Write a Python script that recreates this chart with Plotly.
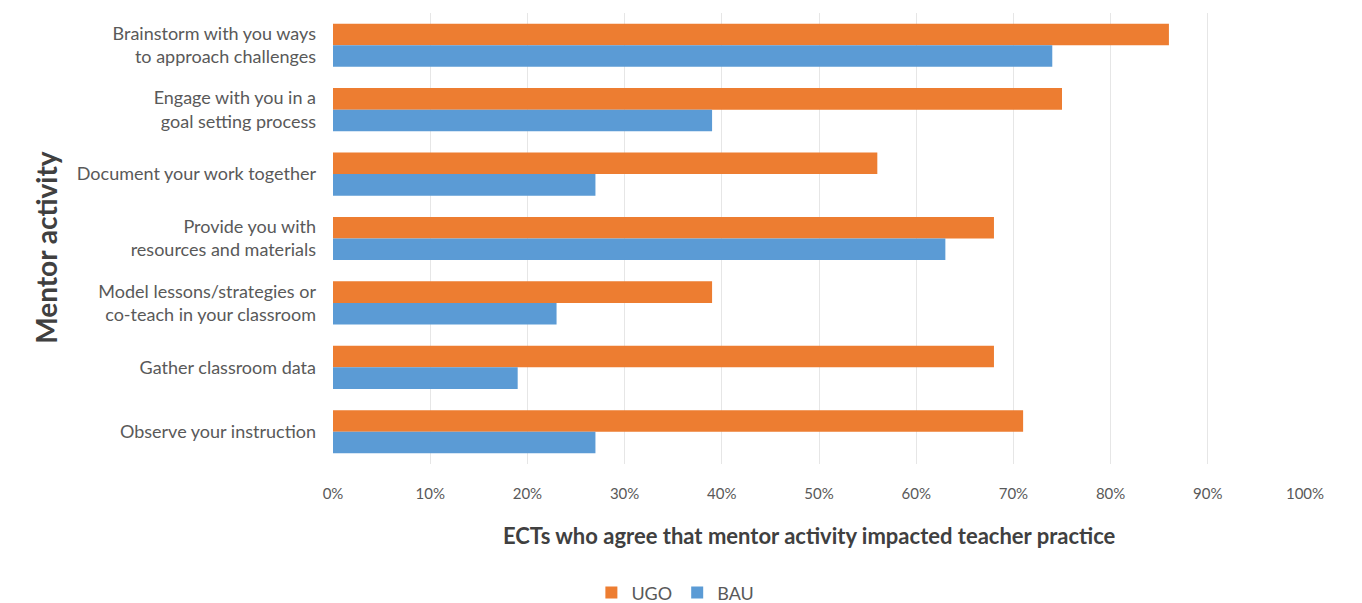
import plotly.graph_objects as go

categories = [
    "Brainstorm with you ways<br>to approach challenges",
    "Engage with you in a<br>goal setting process",
    "Document your work together",
    "Provide you with<br>resources and materials",
    "Model lessons/strategies or<br>co-teach in your classroom",
    "Gather classroom data",
    "Observe your instruction",
]
ugo = [0.86, 0.75, 0.56, 0.68, 0.39, 0.68, 0.71]
bau = [0.74, 0.39, 0.27, 0.63, 0.23, 0.19, 0.27]

FONT = "Lato, 'Open Sans', sans-serif"

fig = go.Figure()
fig.add_trace(go.Bar(y=categories, x=ugo, orientation="h", name="UGO",
                     marker=dict(color="#ED7D31", line=dict(width=0))))
fig.add_trace(go.Bar(y=categories, x=bau, orientation="h", name="BAU",
                     marker=dict(color="#5B9BD5", line=dict(width=0))))

fig.update_layout(
    width=1362, height=603,
    margin=dict(l=325, r=65, t=5, b=147),
    paper_bgcolor="white", plot_bgcolor="white",
    barmode="group", bargap=0.33, bargroupgap=0,
    font=dict(family=FONT, color="#595959"),
    showlegend=True,
    legend=dict(orientation="h", xref="container", yref="container",
                x=0.49, xanchor="center", y=0.03, yanchor="middle",
                font=dict(size=18, color="#595959"), traceorder="normal",
                itemwidth=30),
    xaxis=dict(range=[0, 1], tickvals=[i / 10 for i in range(11)],
               tickformat=".0%", showgrid=True, gridcolor="#E6E6E6", gridwidth=1,
               zeroline=False, showline=False, ticks="",
               tickfont=dict(size=15, color="#595959"), ticklabelstandoff=19),
    yaxis=dict(autorange="reversed", showgrid=False, zeroline=False,
               showline=False, ticks="", tickfont=dict(size=18, color="#595959"),
               ticklabelstandoff=16),
    annotations=[
        dict(text="ECTs who agree that mentor activity impacted teacher practice",
             xref="paper", yref="paper", x=0.49, y=-0.158, yanchor="middle",
             xanchor="center", showarrow=False,
             font=dict(size=22, color="#404040", family=FONT, weight="bold")),
        dict(text="Mentor activity", xref="paper", yref="paper",
             x=-0.296, xanchor="center", y=0.48, yanchor="middle", textangle=-90,
             showarrow=False,
             font=dict(size=28, color="#404040", family=FONT, weight="bold")),
    ],
)

fig.write_html("out.html")
